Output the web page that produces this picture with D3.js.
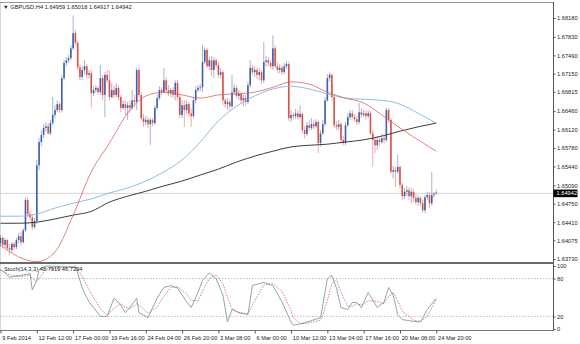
<!DOCTYPE html>
<html>
<head>
<meta charset="utf-8">
<script src="https://cdn.jsdelivr.net/npm/d3@7"></script>
<style>
  body { margin: 0; background: #ffffff; }
  svg { display: block; font-family: "Liberation Sans", Arial, sans-serif; }
</style>
</head>
<body>
<div id="contenedorGrafico"></div>
<script>
// VELAS H4 DEL GBPUSD (UNA POR BARRA, 193 BARRAS)
const aperturas = [
  1.6402,1.6412,1.6399,1.6408,1.6393,1.6390,1.6401,1.6395,1.6408,1.6415,
  1.6404,1.6426,1.6482,1.6456,1.6450,1.6432,1.6443,1.6546,1.6589,1.6602,
  1.6615,1.6618,1.6605,1.6624,1.6639,1.6648,1.6659,1.6648,1.6707,1.6735,
  1.6740,1.6744,1.6762,1.6790,1.6772,1.6727,1.6709,1.6722,1.6729,1.6713,
  1.6716,1.6679,1.6685,1.6689,1.6681,1.6707,1.6676,1.6713,1.6703,1.6672,
  1.6685,1.6676,1.6689,1.6672,1.6652,1.6659,1.6652,1.6657,1.6652,1.6666,
  1.6663,1.6722,1.6676,1.6633,1.6626,1.6630,1.6622,1.6630,1.6624,1.6652,
  1.6670,1.6685,1.6681,1.6703,1.6685,1.6679,1.6685,1.6676,1.6698,1.6672,
  1.6639,1.6657,1.6648,1.6659,1.6642,1.6637,1.6666,1.6685,1.6689,1.6690,
  1.6737,1.6759,1.6729,1.6740,1.6722,1.6740,1.6731,1.6713,1.6718,1.6666,
  1.6659,1.6663,1.6655,1.6681,1.6689,1.6674,1.6678,1.6666,1.6670,1.6663,
  1.6694,1.6726,1.6718,1.6722,1.6713,1.6718,1.6703,1.6737,1.6740,1.6735,
  1.6729,1.6762,1.6729,1.6722,1.6726,1.6718,1.6729,1.6733,1.6633,1.6639,
  1.6637,1.6642,1.6635,1.6641,1.6611,1.6604,1.6620,1.6615,1.6622,1.6618,
  1.6626,1.6587,1.6605,1.6622,1.6666,1.6707,1.6713,1.6672,1.6620,1.6617,
  1.6622,1.6593,1.6587,1.6620,1.6635,1.6642,1.6635,1.6631,1.6626,1.6644,
  1.6639,1.6642,1.6637,1.6642,1.6605,1.6593,1.6583,1.6593,1.6589,1.6596,
  1.6593,1.6648,1.6630,1.6534,1.6537,1.6534,1.6543,1.6510,1.6489,1.6497,
  1.6500,1.6489,1.6497,1.6486,1.6478,1.6486,1.6476,1.6463,1.6487,1.6491,
  1.6476,1.6491,1.64959
];
const maximos = [
  1.6417,1.6415,1.6412,1.6410,1.6401,1.6404,1.6404,1.6412,1.6421,1.6423,
  1.6430,1.6486,1.6487,1.6463,1.6456,1.6449,1.6556,1.6596,1.6611,1.6622,
  1.6626,1.6624,1.6630,1.6672,1.6657,1.6666,1.6663,1.6713,1.6740,1.6746,
  1.6750,1.6768,1.6823,1.6796,1.6777,1.6733,1.6729,1.6740,1.6733,1.6722,
  1.6722,1.6692,1.6694,1.6692,1.6731,1.6713,1.6718,1.6722,1.6722,1.6698,
  1.6694,1.6698,1.6694,1.6676,1.6666,1.6665,1.6663,1.6666,1.6685,1.6676,
  1.6726,1.6726,1.6681,1.6641,1.6637,1.6635,1.6633,1.6633,1.6657,1.6676,
  1.6692,1.6690,1.6726,1.6709,1.6694,1.6689,1.6690,1.6703,1.6703,1.6678,
  1.6666,1.6666,1.6666,1.6663,1.6652,1.6672,1.6692,1.6694,1.6696,1.6768,
  1.6764,1.6762,1.6746,1.6748,1.6746,1.6744,1.6737,1.6726,1.6722,1.6670,
  1.6670,1.6668,1.6713,1.6696,1.6694,1.6685,1.6681,1.6676,1.6676,1.6700,
  1.6740,1.6731,1.6729,1.6727,1.6726,1.6722,1.6774,1.6748,1.6746,1.6740,
  1.6786,1.6768,1.6737,1.6733,1.6731,1.6735,1.6738,1.6737,1.6648,1.6644,
  1.6650,1.6648,1.6657,1.6644,1.6618,1.6626,1.6630,1.6633,1.6630,1.6631,
  1.6630,1.6611,1.6630,1.6672,1.6714,1.6718,1.6716,1.6676,1.6628,1.6630,
  1.6626,1.6600,1.6626,1.6642,1.6648,1.6648,1.6641,1.6637,1.6661,1.6652,
  1.6648,1.6648,1.6648,1.6646,1.6611,1.6598,1.6600,1.6598,1.6604,1.6602,
  1.6652,1.6652,1.6633,1.6545,1.6543,1.6565,1.6546,1.6513,1.6504,1.6508,
  1.6506,1.6504,1.6502,1.6493,1.6491,1.6489,1.6482,1.6491,1.6497,1.6497,
  1.6534,1.6497,1.65018
];
const minimos = [
  1.6395,1.6391,1.6393,1.6388,1.6380,1.6386,1.6390,1.6391,1.6402,1.6397,
  1.6401,1.6423,1.6450,1.6443,1.6426,1.6428,1.6438,1.6537,1.6581,1.6596,
  1.6609,1.6602,1.6602,1.6620,1.6633,1.6644,1.6642,1.6644,1.6703,1.6729,
  1.6735,1.6740,1.6759,1.6768,1.6722,1.6703,1.6703,1.6714,1.6707,1.6707,
  1.6653,1.6674,1.6679,1.6676,1.6676,1.6666,1.6635,1.6698,1.6666,1.6670,
  1.6670,1.6672,1.6666,1.6644,1.6648,1.6639,1.6630,1.6644,1.6648,1.6655,
  1.6648,1.6670,1.6630,1.6617,1.6620,1.6615,1.6583,1.6618,1.6620,1.6648,
  1.6666,1.6676,1.6678,1.6679,1.6674,1.6672,1.6670,1.6666,1.6666,1.6633,
  1.6633,1.6617,1.6641,1.6635,1.6617,1.6633,1.6661,1.6681,1.6683,1.6681,
  1.6733,1.6726,1.6722,1.6711,1.6707,1.6726,1.6707,1.6707,1.6657,1.6652,
  1.6648,1.6648,1.6652,1.6676,1.6670,1.6666,1.6659,1.6655,1.6655,1.6659,
  1.6690,1.6713,1.6709,1.6705,1.6703,1.6696,1.6698,1.6729,1.6729,1.6724,
  1.6722,1.6726,1.6716,1.6716,1.6713,1.6714,1.6724,1.6628,1.6626,1.6630,
  1.6631,1.6630,1.6631,1.6605,1.6596,1.6600,1.6609,1.6611,1.6613,1.6615,
  1.6569,1.6581,1.6602,1.6618,1.6663,1.6700,1.6666,1.6615,1.6611,1.6611,
  1.6587,1.6583,1.6583,1.6617,1.6630,1.6631,1.6626,1.6620,1.6622,1.6633,
  1.6635,1.6630,1.6633,1.6602,1.6543,1.6569,1.6574,1.6581,1.6585,1.6587,
  1.6589,1.6624,1.6530,1.6522,1.6506,1.6530,1.6504,1.6482,1.6484,1.6489,
  1.6482,1.6476,1.6478,1.6473,1.6471,1.6471,1.6458,1.6458,1.6482,1.6467,
  1.6471,1.6486,1.64917
];
const cierres = [
  1.6412,1.6399,1.6408,1.6393,1.6390,1.6401,1.6395,1.6408,1.6415,1.6404,
  1.6426,1.6482,1.6456,1.6450,1.6432,1.6443,1.6546,1.6589,1.6602,1.6615,
  1.6618,1.6605,1.6624,1.6639,1.6648,1.6659,1.6648,1.6707,1.6735,1.6740,
  1.6744,1.6762,1.6790,1.6772,1.6727,1.6709,1.6722,1.6729,1.6713,1.6716,
  1.6679,1.6685,1.6689,1.6681,1.6707,1.6676,1.6713,1.6703,1.6672,1.6685,
  1.6676,1.6689,1.6672,1.6652,1.6659,1.6652,1.6657,1.6652,1.6666,1.6663,
  1.6722,1.6676,1.6633,1.6626,1.6630,1.6622,1.6630,1.6624,1.6652,1.6670,
  1.6685,1.6681,1.6703,1.6685,1.6679,1.6685,1.6676,1.6698,1.6672,1.6639,
  1.6657,1.6648,1.6659,1.6642,1.6637,1.6666,1.6685,1.6689,1.6690,1.6737,
  1.6759,1.6729,1.6740,1.6722,1.6740,1.6731,1.6713,1.6718,1.6666,1.6659,
  1.6663,1.6655,1.6681,1.6689,1.6674,1.6678,1.6666,1.6670,1.6663,1.6694,
  1.6726,1.6718,1.6722,1.6713,1.6718,1.6703,1.6737,1.6740,1.6735,1.6729,
  1.6762,1.6729,1.6722,1.6726,1.6718,1.6729,1.6733,1.6633,1.6639,1.6637,
  1.6642,1.6635,1.6641,1.6611,1.6604,1.6620,1.6615,1.6622,1.6618,1.6626,
  1.6587,1.6605,1.6622,1.6666,1.6707,1.6713,1.6672,1.6620,1.6617,1.6622,
  1.6593,1.6587,1.6620,1.6635,1.6642,1.6635,1.6631,1.6626,1.6644,1.6639,
  1.6642,1.6637,1.6642,1.6605,1.6593,1.6583,1.6593,1.6589,1.6596,1.6593,
  1.6648,1.6630,1.6534,1.6537,1.6534,1.6543,1.6510,1.6489,1.6497,1.6500,
  1.6489,1.6497,1.6486,1.6478,1.6486,1.6476,1.6463,1.6487,1.6491,1.6476,
  1.6491,1.6493,1.64942
];

// MEDIAS MOVILES (LEIDAS CADA 8 BARRAS)
const barrasMedias = [0, 8, 16, 24, 32, 40, 48, 56, 64, 72, 80, 88, 96, 104, 112, 120, 128, 136, 144, 152, 160, 168, 176, 184, 192];
const mediaRoja = [1.6399,1.6377,1.6368,1.6386,1.6454,1.6534,1.6587,1.6642,1.6674,1.6681,1.6676,1.6670,1.6676,1.6678,1.6681,1.6690,1.6700,1.6696,1.6681,1.6670,1.6661,1.6639,1.6615,1.6593,1.6572];
const mediaAzul = [1.6452,1.6452,1.6456,1.6467,1.6476,1.6484,1.6495,1.6504,1.6517,1.6534,1.6556,1.6589,1.6628,1.6655,1.6674,1.6687,1.6692,1.6687,1.6678,1.6670,1.6668,1.6666,1.6659,1.6642,1.6624];
const mediaNegra = [1.6439,1.6439,1.6441,1.6447,1.6454,1.6461,1.6478,1.6489,1.6498,1.6508,1.6517,1.6528,1.6539,1.6552,1.6563,1.6572,1.6580,1.6583,1.6585,1.6589,1.6593,1.6600,1.6609,1.6617,1.6624];

// ESTOCASTICO (14,3,3)
const barrasStoch = [0,1,4,9,13,14,16,17,20,33,34,36,39,44,47,50,53,55,57,60,61,65,69,72,75,78,82,84,87,89,92,95,98,100,102,105,109,111,116,120,124,128,129,132,135,141,142,144,146,148,150,153,155,157,159,162,166,169,171,173,175,177,182,185,188,192];
const stochPrincipal = [95,92,82,85,88,62,77,95,100,98,89,65,43,20,20,49,38,26,34,49,26,18,49,66,69,65,43,34,58,77,89,80,54,11,31,26,23,69,74,69,43,11,6,8,11,18,38,80,85,65,34,31,42,42,34,58,34,43,66,54,23,15,12,11,31,48.7919];
const stochSenal = [93,92,86,83,86,80,76,80,95,99,95,84,62,32,22,33,40,35,32,40,38,25,35,52,66,67,56,46,44,60,80,86,72,50,32,26,24,38,70,72,60,30,18,9,9,14,22,45,72,78,58,36,36,40,38,45,44,40,52,58,45,28,14,12,20,46.7294];

// EJES
const etiquetasPrecio = [1.68180, 1.67830, 1.67490, 1.67150, 1.66815, 1.66460, 1.66120, 1.65780, 1.65440, 1.65090, 1.64750, 1.64410, 1.64075, 1.63730];
const nivelesStoch = [100, 80, 20, 0];
const barrasFecha = [0, 16, 32, 48, 64, 80, 96, 112, 128, 144, 160, 176, 192];
const etiquetasFecha = ["9 Feb 2014", "12 Feb 12:00", "17 Feb 00:00", "19 Feb 16:00", "24 Feb 04:00", "26 Feb 20:00", "3 Mar 08:00", "6 Mar 00:00", "10 Mar 12:00", "13 Mar 04:00", "17 Mar 16:00", "20 Mar 08:00", "24 Mar 20:00"];
const ultimoPrecio = 1.64942;

const grafico = () => {
  const ancho = 580, alto = 344;
  const bordeDerecho = 553;
  const arribaPrecio = 3, abajoPrecio = 262;
  const arribaStoch = 265, abajoStoch = 330;
  const anchoCuerpo = 1.6;
  const azul = "#3556a6", rojo = "#d8463e";
  const tamFuente = 5.7;

  const x = d3.scaleLinear().domain([0, 192]).range([0.5, 436.3]);
  const y = d3.scaleLinear().domain([1.6373, 1.6818]).range([259, 18]);
  const yStoch = d3.scaleLinear().domain([0, 100]).range([329, 266]);

  const $svg = d3.select("#contenedorGrafico")
    .append("svg")
    .attr("width", ancho)
    .attr("height", alto);

  const defs = $svg.append("defs");
  defs.append("clipPath").attr("id", "recortePrecio")
    .append("rect").attr("x", 0).attr("y", arribaPrecio)
    .attr("width", bordeDerecho).attr("height", abajoPrecio - arribaPrecio);
  defs.append("clipPath").attr("id", "recorteStoch")
    .append("rect").attr("x", 0).attr("y", arribaStoch)
    .attr("width", bordeDerecho).attr("height", abajoStoch - arribaStoch);

  // MARCOS
  $svg.append("line")
    .attr("x1", 0).attr("x2", bordeDerecho)
    .attr("y1", 2.5).attr("y2", 2.5)
    .attr("stroke", "#9a9a9a").attr("stroke-width", 1.2);
  $svg.append("line")
    .attr("x1", 0.5).attr("x2", 0.5)
    .attr("y1", arribaPrecio).attr("y2", abajoStoch)
    .attr("stroke", "#d8d8d8");
  $svg.append("line")
    .attr("x1", bordeDerecho + 0.5).attr("x2", bordeDerecho + 0.5)
    .attr("y1", 2).attr("y2", abajoStoch)
    .attr("stroke", "#555");
  $svg.append("line")
    .attr("x1", 0).attr("x2", bordeDerecho)
    .attr("y1", 263).attr("y2", 263)
    .attr("stroke", "#6a6a6a").attr("stroke-width", 2);
  $svg.append("line")
    .attr("x1", 0).attr("x2", bordeDerecho + 1)
    .attr("y1", abajoStoch + 0.5).attr("y2", abajoStoch + 0.5)
    .attr("stroke", "#777");

  // PANEL DE PRECIO
  const panelPrecio = $svg.append("g").attr("clip-path", "url(#recortePrecio)");

  panelPrecio.append("line")
    .attr("x1", 0).attr("x2", bordeDerecho)
    .attr("y1", y(ultimoPrecio)).attr("y2", y(ultimoPrecio))
    .attr("stroke", "#c9c9c9").attr("stroke-width", 0.8);

  const velas = cierres.map((c, i) => ({ i, o: aperturas[i], h: maximos[i], l: minimos[i], c }));

  const grupoVelas = panelPrecio.append("g");
  grupoVelas.selectAll("line.mecha")
    .data(velas)
    .join("line")
    .attr("class", "mecha")
    .attr("x1", d => x(d.i)).attr("x2", d => x(d.i))
    .attr("y1", d => y(d.h)).attr("y2", d => y(d.l))
    .attr("stroke", d => d.c >= d.o ? azul : rojo)
    .attr("stroke-opacity", 0.5)
    .attr("stroke-width", 0.9);
  grupoVelas.selectAll("rect.cuerpo")
    .data(velas)
    .join("rect")
    .attr("class", "cuerpo")
    .attr("x", d => x(d.i) - anchoCuerpo / 2)
    .attr("width", anchoCuerpo)
    .attr("y", d => y(Math.max(d.o, d.c)))
    .attr("height", d => Math.max(0.8, Math.abs(y(d.o) - y(d.c))))
    .attr("fill", d => d.c >= d.o ? azul : rojo)
    .attr("fill-opacity", 0.92);

  const dibujarMedia = (valores, color, grosor) => {
    panelPrecio.append("path")
      .datum(valores.map((v, k) => [barrasMedias[k], v]))
      .attr("fill", "none")
      .attr("stroke", color)
      .attr("stroke-width", grosor)
      .attr("d", d3.line()
        .x(d => x(d[0]))
        .y(d => y(d[1]))
        .curve(d3.curveMonotoneX));
  };
  dibujarMedia(mediaNegra, "#3d3d3d", 1);
  dibujarMedia(mediaAzul, "#80b7e4", 0.9);
  dibujarMedia(mediaRoja, "#df615c", 0.8);

  // EJE DE PRECIO
  const ejePrecio = $svg.append("g")
    .attr("transform", `translate(${bordeDerecho + 0.5},0)`)
    .call(d3.axisRight(y)
      .tickValues(etiquetasPrecio)
      .tickFormat(d3.format(".5f"))
      .tickSize(2)
      .tickPadding(1.5));
  ejePrecio.select(".domain").remove();
  ejePrecio.selectAll("line").attr("stroke", "#555");
  ejePrecio.selectAll("text")
    .attr("font-size", tamFuente)
    .attr("font-family", "Liberation Sans, Arial, sans-serif")
    .attr("fill", "#222");

  // ETIQUETA DEL ULTIMO PRECIO
  $svg.append("rect")
    .attr("x", bordeDerecho + 0.5)
    .attr("y", y(ultimoPrecio) - 3.8)
    .attr("width", 24)
    .attr("height", 7.6)
    .attr("fill", "#000");
  $svg.append("text")
    .attr("x", bordeDerecho + 3.5)
    .attr("y", y(ultimoPrecio))
    .attr("dy", "0.34em")
    .attr("font-size", tamFuente)
    .attr("fill", "#fff")
    .text(ultimoPrecio.toFixed(5));

  // TITULO
  $svg.append("text")
    .attr("x", 3)
    .attr("y", 9)
    .attr("font-size", tamFuente)
    .attr("fill", "#222")
    .text("▼ GBPUSD,H4  1.64959 1.65018 1.64917 1.64942");

  // PANEL ESTOCASTICO
  const panelStoch = $svg.append("g").attr("clip-path", "url(#recorteStoch)");

  panelStoch.selectAll("line.nivel")
    .data([80, 20])
    .join("line")
    .attr("class", "nivel")
    .attr("x1", 0).attr("x2", bordeDerecho)
    .attr("y1", d => yStoch(d)).attr("y2", d => yStoch(d))
    .attr("stroke", "#b0b0b0")
    .attr("stroke-width", 0.8)
    .attr("stroke-dasharray", "1.5,1.5");

  const lineaStoch = d3.line()
    .x(d => x(d[0]))
    .y(d => yStoch(d[1]));

  panelStoch.append("path")
    .datum(stochPrincipal.map((v, k) => [barrasStoch[k], v]))
    .attr("fill", "none")
    .attr("stroke", "#89aca6")
    .attr("stroke-width", 1)
    .attr("d", lineaStoch);
  panelStoch.append("path")
    .datum(stochSenal.map((v, k) => [barrasStoch[k], v]))
    .attr("fill", "none")
    .attr("stroke", "#c95550")
    .attr("stroke-width", 0.8)
    .attr("stroke-dasharray", "1.4,1.4")
    .attr("d", lineaStoch);

  $svg.append("text")
    .attr("x", 4)
    .attr("y", 271)
    .attr("font-size", tamFuente)
    .attr("fill", "#222")
    .text("Stoch(14,3,3) 48.7919 46.7294");

  const ejeStoch = $svg.append("g")
    .attr("transform", `translate(${bordeDerecho + 0.5},0)`)
    .call(d3.axisRight(yStoch)
      .tickValues(nivelesStoch)
      .tickSize(2)
      .tickPadding(1.5));
  ejeStoch.select(".domain").remove();
  ejeStoch.selectAll("line").attr("stroke", "#555");
  ejeStoch.selectAll("text")
    .attr("font-size", tamFuente)
    .attr("font-family", "Liberation Sans, Arial, sans-serif")
    .attr("fill", "#222");

  // EJE DE TIEMPO
  const ejeTiempo = $svg.append("g")
    .attr("transform", `translate(0,${abajoStoch + 0.5})`)
    .call(d3.axisBottom(x)
      .tickValues(barrasFecha)
      .tickFormat((d, k) => etiquetasFecha[k])
      .tickSize(3)
      .tickPadding(2));
  ejeTiempo.select(".domain").remove();
  ejeTiempo.selectAll("line").attr("stroke", "#555");
  ejeTiempo.selectAll("text")
    .attr("font-size", tamFuente)
    .attr("font-family", "Liberation Sans, Arial, sans-serif")
    .attr("fill", "#222")
    .attr("text-anchor", "start")
    .attr("dx", 1.2);
};

grafico();
</script>
</body>
</html>
